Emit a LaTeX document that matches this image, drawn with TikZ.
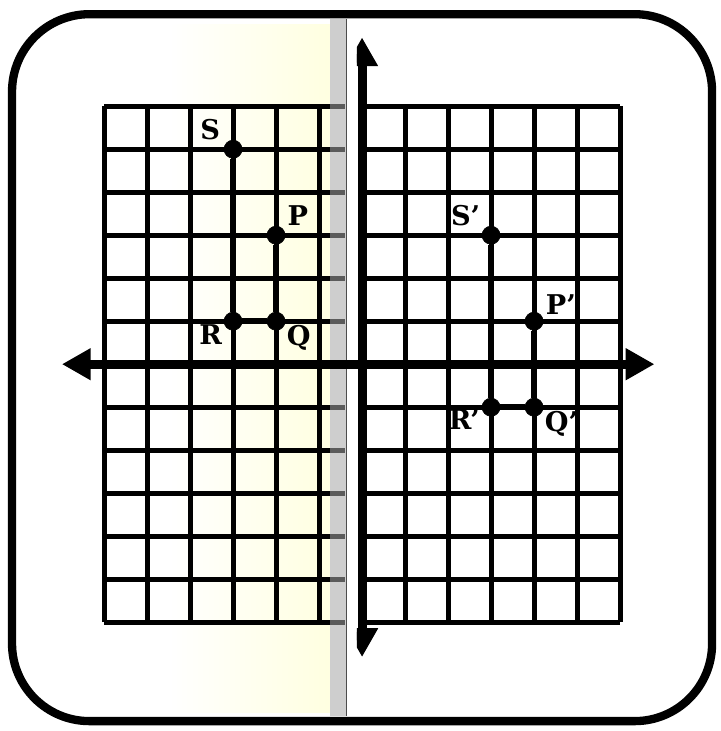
\documentclass[tikz,border=0pt]{standalone}
\usepackage{fontspec}
\usepackage{tikz}
\usetikzlibrary{arrows.meta,positioning}
\newfontfamily\lblfont{DejaVu Serif}

\begin{document}
\begin{tikzpicture}[auto,>={Triangle[length=0.67cm,width=0.7cm]}]
	\tikzstyle{gridline} = [line width=3.3pt]
	\tikzstyle{segment} = [line width=4.2pt]
	\tikzstyle{axis} = [line width=6pt]
	\tikzstyle{pt} = [draw, circle, fill, minimum size=0.42cm, inner sep=0pt]
	\tikzstyle{lbl} = [font=\lblfont\fontsize{18}{20}\selectfont\bfseries, inner sep=1pt]
	
	\useasboundingbox (-8.42,-8.53) rectangle (8.33,8.47);
	\fill[white] (-8.42,-8.53) rectangle (8.33,8.47);
	
	% card and fold
	\shade[left color=white, right color=yellow!12] (-4.5,-8.1) rectangle (-0.75,7.9);
	\draw[line width=5.5pt, rounded corners=1.8cm] (-8.14,-8.3) rectangle (8.14,8.14);
	
	% the two grids
	\draw[gridline] (-6,-6) grid (-0.4,6);
	\draw[gridline] (0,-6) grid (6,6);
	\fill[gray!70, opacity=0.55] (-0.75,-8.18) rectangle (-0.38,8.02);
	\draw[gray!60!black, line width=1pt] (-0.36,-8.18) -- (-0.36,8.02);
	
	% axes
	\coordinate (xl) at (-6.98,0);
	\coordinate (xr) at (6.8,0);
	\coordinate (yt) at (0,7.6);
	\coordinate (yb) at (0,-6.81);
	\draw [axis,->] (0,0) -- (xr);
	\draw [axis,->] (0,0) -- (xl);
	\begin{scope}
		\clip (-0.12,-8.5) rectangle (8.3,8.5);
		\draw [axis,<->] (yb) -- (yt);
	\end{scope}
	
	% original figure
	\node [pt, label={[lbl, label distance=0.1cm]145:S}] (S) at (-3,5) {};
	\node [pt, label={[lbl, label distance=0.08cm]40:P}] (P) at (-2,3) {};
	\node [pt, label={[lbl, label distance=0.0cm]190:R}] (R) at (-3,1) {};
	\node [pt, label={[lbl, label distance=0.0cm]345:Q}] (Q) at (-2,1) {};
	\draw [segment] (S) -- (R);
	\draw [segment] (R) -- (Q);
	\draw [segment] (Q) -- (P);
	
	% image
	\node [pt, label={[lbl, label distance=0.06cm]140:S’}] (Sp) at (3,3) {};
	\node [pt, label={[lbl, label distance=0.04cm]25:P’}] (Pp) at (4,1) {};
	\node [pt, label={[lbl, label distance=0.0cm]185:R’}] (Rp) at (3,-1) {};
	\node [pt, label={[lbl, label distance=0.0cm]345:Q’}] (Qp) at (4,-1) {};
	\draw [segment] (Sp) -- (Rp);
	\draw [segment] (Rp) -- (Qp);
	\draw [segment] (Qp) -- (Pp);
\end{tikzpicture}
\end{document}
